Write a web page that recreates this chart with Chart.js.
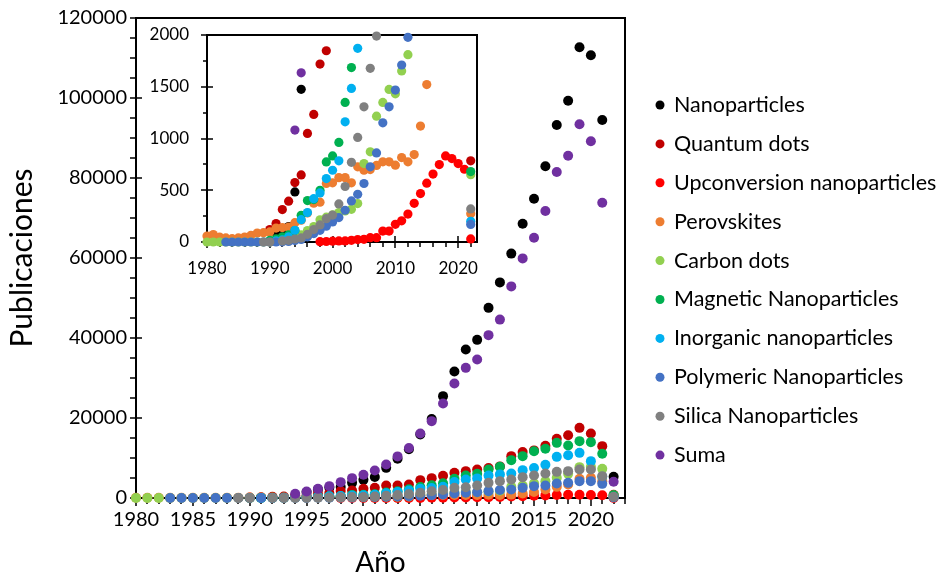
<!DOCTYPE html>
<html>
<head>
<meta charset="utf-8">
<script src="https://cdn.jsdelivr.net/npm/chart.js@4.4.1/dist/chart.umd.min.js"></script>
<style>
  html, body { margin: 0; padding: 0; background: #fff; }
  #wrap { position: relative; width: 951px; height: 580px; }
  #main { position: absolute; left: 0; top: 0; }
  #inset { position: absolute; left: 140px; top: 20px; }
</style>
</head>
<body>
<div id="wrap">
  <canvas id="main" width="951" height="580"></canvas>
  <canvas id="inset" width="345" height="265"></canvas>
</div>
<script>
// Publications per year, 1980-2022 (null = no record that year)
const years = [1980,1981,1982,1983,1984,1985,1986,1987,1988,1989,1990,1991,1992,1993,1994,1995,1996,1997,1998,1999,2000,2001,2002,2003,2004,2005,2006,2007,2008,2009,2010,2011,2012,2013,2014,2015,2016,2017,2018,2019,2020,2021,2022];

const nanoparticles = [null,null,null,null,null,null,null,null,null,null,null,85,90,150,484,1475,2150,2600,2750,3790,4540,5250,7540,9830,12200,15900,19750,25460,31625,37125,39540,47540,53900,61100,68580,74830,82920,93250,99330,112670,110670,94500,5330];
const quantumDots = [null,null,null,null,null,null,null,null,null,null,120,178,313,394,574,648,1049,1233,1719,1848,2290,2540,3125,3125,3375,4460,4960,5540,6290,6710,7125,7500,7900,10460,11500,11900,13040,14830,15670,17540,16125,12960,784];
const upconversion = [null,null,null,null,null,null,null,null,null,null,null,null,null,null,null,null,null,null,3,5,8,10,10,16,23,26,42,42,106,106,171,205,270,374,468,568,656,748,832,806,758,703,30];
const perovskites = [58,72,48,39,32,39,48,65,87,90,97,135,139,145,187,210,280,375,385,565,572,622,622,572,726,694,700,740,775,775,742,816,775,845,1120,1521,2125,2790,3375,4790,5040,4210,274];
const carbonDots = [0,0,0,0,0,0,0,0,0,0,0,8,15,25,45,70,110,150,215,240,262,285,300,316,371,758,871,1216,1349,1474,1432,1652,1810,2790,3125,3700,4210,5040,6040,7710,7790,7290,650];
const magnetic = [null,null,null,null,null,null,null,null,null,null,15,30,50,70,110,258,400,410,500,774,832,962,1349,1685,2200,2750,3200,3700,4790,5625,6080,7125,7790,9460,10460,11670,12330,13790,13125,14210,13960,11080,680];
const inorganic = [null,null,null,null,null,null,null,null,null,null,null,10,20,50,113,216,284,419,474,613,693,784,1161,1484,1871,2300,2500,2790,4000,4625,4900,5600,5900,6100,6960,7500,8330,10290,10670,11290,9210,5300,200];
const polymeric = [null,null,null,0,0,0,0,0,0,0,0,0,2,5,15,25,50,81,113,152,194,236,307,397,461,565,726,861,1151,1306,1468,1710,1978,2125,2540,2960,3125,3625,3790,4210,4210,3540,170];
const silica = [null,null,null,null,null,null,null,null,null,0,0,null,10,16,29,39,74,120,165,225,260,368,536,770,1010,1306,1678,1990,2540,2700,3125,3790,4210,4625,5210,5625,6125,6540,6710,7125,7125,5460,320];
const suma = [null,null,null,null,null,null,null,null,null,null,null,null,null,null,1081,1635,2290,2960,3960,4960,5830,6875,8375,10400,12500,16125,19210,23625,28625,32540,34625,40710,44600,52900,59900,65080,71750,81500,85580,93420,89170,73830,4080];

const seriesNames = ['Nanoparticles','Quantum dots','Upconversion nanoparticles','Perovskites','Carbon dots','Magnetic Nanoparticles','Inorganic nanoparticles','Polymeric Nanoparticles','Silica Nanoparticles','Suma'];
const seriesValues = [nanoparticles, quantumDots, upconversion, perovskites, carbonDots, magnetic, inorganic, polymeric, silica, suma];
const seriesColors = ['#000000','#C00000','#FF0000','#ED7D31','#92D050','#00B050','#00B0F0','#4472C4','#808080','#7030A0'];

const mainXTicks = [1980,1985,1990,1995,2000,2005,2010,2015,2020];
const mainYTicks = [0,20000,40000,60000,80000,100000,120000];
const insetXTicks = [1980,1990,2000,2010,2020];
const insetYTicks = [0,500,1000,1500,2000];

const FONT = 'Lato';

function buildDatasets(limit, radius) {
  return seriesNames.map((name, i) => ({
    label: name,
    data: years.map((yr, k) => ({ x: yr, y: seriesValues[i][k] }))
               .filter(p => p.y !== null && p.y <= limit),
    backgroundColor: seriesColors[i],
    borderWidth: 0,
    pointRadius: radius,
    pointHoverRadius: radius,
    clip: false,
    order: seriesNames.length - i   // later series sit on top
  }));
}

// Box frame plus major/minor tick marks, drawn under the markers
const frameAndTicks = {
  id: 'frameAndTicks',
  beforeDatasetsDraw(chart, args, o) {
    const { ctx, chartArea: a } = chart;
    const xs = chart.scales.x, ys = chart.scales.y;
    const isMajor = (v, m) => Math.abs(v / m - Math.round(v / m)) < 1e-6;
    ctx.save();
    ctx.strokeStyle = '#000';
    ctx.lineWidth = o.frameWidth;
    ctx.strokeRect(a.left, a.top, a.right - a.left, a.bottom - a.top);
    ctx.lineWidth = o.tickWidth;
    ctx.beginPath();
    for (let v = ys.min; v <= ys.max + 1e-6; v += o.yMinor) {
      const p = Math.round(ys.getPixelForValue(v));
      const mj = isMajor(v, o.yMajor);
      ctx.moveTo(a.left - (mj ? o.yMajorOut : o.yMinorOut), p);
      ctx.lineTo(a.left + (mj ? o.yMajorIn : 0), p);
    }
    for (let v = xs.min; v <= xs.max + 1e-6; v += o.xMinor) {
      const p = Math.round(xs.getPixelForValue(v));
      const mj = isMajor(v - xs.min, o.xMajor);
      ctx.moveTo(p, a.bottom + (mj ? o.xMajorOut : o.xMinorOut));
      ctx.lineTo(p, a.bottom - (mj ? o.xMajorIn : 0));
    }
    ctx.stroke();
    ctx.restore();
  }
};

// Series key at the right of the main plot
const sideLegend = {
  id: 'sideLegend',
  afterDraw(chart, args, o) {
    if (!o.show) return;
    const ctx = chart.ctx;
    ctx.save();
    ctx.font = o.size + 'px ' + FONT;
    ctx.textBaseline = 'middle';
    ctx.textAlign = 'left';
    chart.data.datasets.forEach((ds, i) => {
      const cy = o.top + i * o.step;
      ctx.fillStyle = ds.backgroundColor;
      ctx.beginPath();
      ctx.arc(o.markerX, cy, o.radius, 0, Math.PI * 2);
      ctx.fill();
      ctx.fillStyle = '#000';
      ctx.fillText(ds.label, o.textX, cy);
    });
    ctx.restore();
  }
};

function fixBox(dim, size) {
  return s => {
    s[dim] = size;
    s.paddingTop = 0; s.paddingBottom = 0; s.paddingLeft = 0; s.paddingRight = 0;
  };
}

function axisCommon(tickList, fontSize, pad) {
  return {
    type: 'linear',
    grid: { display: false, drawTicks: false },
    border: { display: false },
    afterBuildTicks: s => { s.ticks = tickList.map(v => ({ value: v })); },
    ticks: {
      color: '#000',
      font: { family: FONT, size: fontSize },
      padding: pad,
      autoSkip: false,
      maxRotation: 0,
      callback: v => String(v)
    }
  };
}

const mainX = Object.assign(axisCommon(mainXTicks, 20, 10), {
  min: 1980, max: 2023,
  title: { display: true, text: 'Año', color: '#000', font: { family: FONT, size: 28 }, padding: { top: 0, bottom: 0 } },
  afterFit: fixBox('height', 82)
});
const mainY = Object.assign(axisCommon(mainYTicks, 20, 9), {
  min: 0, max: 120000,
  title: { display: true, text: 'Publicaciones', color: '#000', font: { family: FONT, size: 30 }, padding: { top: 4, bottom: 0 } },
  afterFit: fixBox('width', 136)
});

new Chart(document.getElementById('main'), {
  type: 'scatter',
  data: { datasets: buildDatasets(Infinity, 5) },
  options: {
    responsive: false,
    animation: false,
    events: [],
    layout: { padding: { left: 0, top: 18, right: 326, bottom: 0 } },
    scales: { x: mainX, y: mainY },
    plugins: {
      legend: { display: false },
      tooltip: { enabled: false },
      frameAndTicks: { frameWidth: 2, tickWidth: 1.5, yMinor: 5000, yMajor: 20000, yMajorOut: 6, yMajorIn: 6, yMinorOut: 6,
                       xMinor: 1, xMajor: 5, xMajorOut: 8, xMajorIn: 5, xMinorOut: 6 },
      sideLegend: { show: true, markerX: 660, textX: 674, top: 105, step: 38.9, radius: 4.5, size: 21.5 }
    }
  },
  plugins: [frameAndTicks, sideLegend]
});

const insetX = Object.assign(axisCommon(insetXTicks, 17, 16), {
  min: 1980, max: 2023,
  afterFit: fixBox('height', 43)
});
const insetY = Object.assign(axisCommon(insetYTicks, 17, 18), {
  min: 0, max: 2000,
  afterFit: fixBox('width', 67)
});

new Chart(document.getElementById('inset'), {
  type: 'scatter',
  data: { datasets: buildDatasets(2000, 4.6) },
  options: {
    responsive: false,
    animation: false,
    events: [],
    layout: { padding: { left: 0, top: 15, right: 8, bottom: 0 } },
    scales: { x: insetX, y: insetY },
    plugins: {
      legend: { display: false },
      tooltip: { enabled: false },
      frameAndTicks: { frameWidth: 2, tickWidth: 1.5, yMinor: 250, yMajor: 500, yMajorOut: 6, yMajorIn: 6, yMinorOut: 4,
                       xMinor: 2, xMajor: 10, xMajorOut: 6, xMajorIn: 6, xMinorOut: 5 },
      sideLegend: { show: false }
    }
  },
  plugins: [frameAndTicks, sideLegend]
});
</script>
</body>
</html>
